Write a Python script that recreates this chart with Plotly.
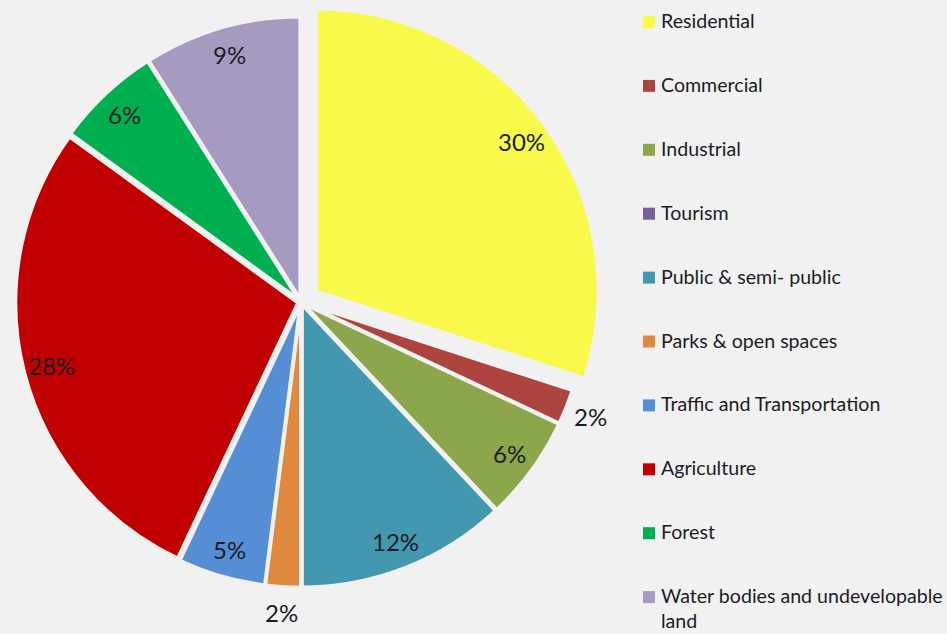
import math
import textwrap
import plotly.graph_objects as go

# Land-use shares (percent of total area)
categories = [
    "Residential",
    "Commercial",
    "Industrial",
    "Tourism",
    "Public & semi- public",
    "Parks & open spaces",
    "Traffic and Transportation",
    "Agriculture",
    "Forest",
    "Water bodies and undevelopable land",
]
shares = [30, 2, 6, 0, 12, 2, 5, 28, 6, 9]
colors = [
    "#F9F94B", "#AE4440", "#8CA64C", "#77609B", "#4398AF",
    "#DF893E", "#568ED6", "#C00000", "#00B050", "#A79AC0",
]

W, H = 947, 634
BG = "#F1F1F1"
TEXT = "#1C1C24"
FONT = "Lato"

# pie geometry (paper domain) and explosion
dom_x = [0.0, 602 / W]
dom_y = [1 - 604 / H, 1.0]
pulls = [0.066 if c == "Residential" else 0.011 for c in categories]

fig = go.Figure(
    go.Pie(
        labels=categories,
        values=shares,
        marker=dict(colors=colors, line=dict(color=BG, width=3.5)),
        pull=pulls,
        sort=False,
        direction="clockwise",
        rotation=0,
        textinfo="none",
        showlegend=False,
        domain=dict(x=dom_x, y=dom_y),
        hovertemplate="%{label}: %{value}%<extra></extra>",
    )
)

# centre and radius the way plotly lays out the pie
box_w = W * (dom_x[1] - dom_x[0])
box_h = H * (dom_y[1] - dom_y[0])
r = min(box_w, box_h) / 2 / (1 + max(pulls))
cx = W * (dom_x[0] + dom_x[1]) / 2
cy = H * (1 - (dom_y[0] + dom_y[1]) / 2)

annotations = []
shapes = []

# percentage labels along each slice's mid-angle
total = sum(shares)
cum = 0.0
for name, v, p in zip(categories, shares, pulls):
    mid = 2 * math.pi * (cum + v / 2) / total
    cum += v
    if v == 0:
        continue
    ux, uy = math.sin(mid), -math.cos(mid)
    k = 1.09 if v <= 2 else 0.9
    px = cx + ux * r * (p + k)
    py = cy + uy * r * (p + k)
    annotations.append(dict(
        x=px / W, y=1 - py / H, xref="paper", yref="paper",
        text=f"{v}%", showarrow=False, xanchor="center", yanchor="middle",
        font=dict(family=FONT, size=24, color=TEXT),
    ))

# legend: coloured squares with names
leg_x0, leg_top, leg_step, fs = 643, 22, 63.9, 19.6
for i, (name, col) in enumerate(zip(categories, colors)):
    yc = leg_top + i * leg_step
    shapes.append(dict(
        type="rect", xref="paper", yref="paper",
        x0=leg_x0 / W, x1=(leg_x0 + 12) / W,
        y0=1 - (yc + 6) / H, y1=1 - (yc - 6) / H,
        fillcolor=col, line=dict(width=0),
    ))
    text = "<br>".join(textwrap.wrap(name, 30))
    annotations.append(dict(
        x=660 / W, y=1 - (yc - 14) / H, xref="paper", yref="paper",
        text=text, showarrow=False, xanchor="left", yanchor="top",
        align="left", borderpad=0,
        font=dict(family=FONT, size=fs, color=TEXT),
    ))

fig.update_layout(
    width=W, height=H,
    margin=dict(l=0, r=0, t=0, b=0),
    paper_bgcolor=BG, plot_bgcolor=BG,
    annotations=annotations, shapes=shapes,
    showlegend=False,
)

fig.write_html("out.html")
